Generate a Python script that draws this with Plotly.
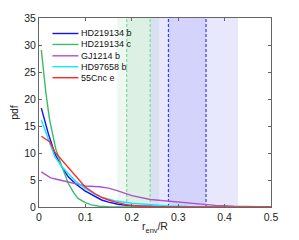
import plotly.graph_objects as go

# ---- data ----
names = ["HD219134 b", "HD219134 c", "GJ1214 b", "HD97658 b", "55Cnc e"]
colors = ["#1010ff", "#3cbb6a", "#b050cc", "#10e8ff", "#ff2a2a"]

x_b = [0.005, 0.012, 0.02, 0.034, 0.05, 0.063, 0.08, 0.099, 0.12, 0.135, 0.15, 0.17, 0.2, 0.25, 0.3, 0.5]
y_b = [18.3, 16.0, 13.6, 9.9, 7.3, 5.6, 4.2, 3.0, 2.0, 1.3, 0.9, 0.5, 0.2, 0.05, 0.0, 0.0]

x_c = [0.005, 0.015, 0.023, 0.03, 0.036, 0.048, 0.063, 0.075, 0.084, 0.1, 0.113, 0.13, 0.15, 0.2, 0.5]
y_c = [29.1, 21.0, 16.1, 13.1, 10.8, 7.8, 4.4, 2.6, 1.6, 0.8, 0.4, 0.15, 0.05, 0.0, 0.0]

x_gj = [0.005, 0.015, 0.025, 0.04, 0.06, 0.08, 0.1, 0.13, 0.15, 0.17, 0.2, 0.24, 0.28, 0.31, 0.35, 0.38, 0.42, 0.45, 0.5]
y_gj = [6.5, 6.0, 5.4, 5.1, 4.7, 4.3, 3.9, 3.75, 3.5, 3.0, 2.1, 1.4, 1.05, 0.8, 0.5, 0.3, 0.15, 0.08, 0.03]

x_hd = [0.005, 0.02, 0.034, 0.05, 0.063, 0.08, 0.099, 0.12, 0.135, 0.15, 0.167, 0.2, 0.24, 0.28, 0.32, 0.4, 0.5]
y_hd = [16.1, 12.5, 9.3, 7.4, 6.2, 4.7, 3.5, 2.4, 1.8, 1.5, 1.1, 0.7, 0.4, 0.2, 0.1, 0.02, 0.0]

x_cnc = [0.005, 0.023, 0.034, 0.05, 0.063, 0.08, 0.099, 0.12, 0.135, 0.15, 0.165, 0.19, 0.22, 0.25, 0.3, 0.5]
y_cnc = [13.1, 12.1, 10.2, 8.6, 7.4, 5.5, 3.75, 2.5, 1.8, 1.3, 0.9, 0.4, 0.15, 0.05, 0.0, 0.0]

green_outer = [0.1686, 0.259]
green_inner = [0.189, 0.2396]
blue_outer = [0.2396, 0.429]
blue_inner = [0.279, 0.360]

x_ticks = [0, 0.1, 0.2, 0.3, 0.4, 0.5]
x_ticklabels = ["0", "0.1", "0.2", "0.3", "0.4", "0.5"]
y_ticks = [0, 5, 10, 15, 20, 25, 30, 35]

series = [(x_b, y_b), (x_c, y_c), (x_gj, y_gj), (x_hd, y_hd), (x_cnc, y_cnc)]

FONT = "Liberation Sans, Arial, sans-serif"

fig = go.Figure()
for (xs, ys), n, c in zip(series, names, colors):
    fig.add_trace(go.Scatter(x=xs, y=ys, mode="lines", name=n,
                             line=dict(color=c, width=1.4), showlegend=False))

shapes = []
GREEN = "rgba(60,180,100,0.09)"
BLUE = "rgba(0,0,235,0.09)"
for band, col in [(green_outer, GREEN), (green_inner, GREEN), (blue_outer, BLUE), (blue_inner, BLUE)]:
    shapes.append(dict(type="rect", xref="x", yref="paper", x0=band[0], x1=band[1], y0=0, y1=1,
                       fillcolor=col, line=dict(width=0), layer="below"))
for xv in green_inner:
    shapes.append(dict(type="line", xref="x", yref="paper", x0=xv, x1=xv, y0=0, y1=1,
                       line=dict(color="#86d69c", width=1.2, dash="3px,2px"), layer="below"))
for xv in blue_inner:
    shapes.append(dict(type="line", xref="x", yref="paper", x0=xv, x1=xv, y0=0, y1=1,
                       line=dict(color="#3a3aff", width=1.2, dash="3px,2px"), layer="below"))

# manual legend
annotations = []
row_y = [0.918, 0.860, 0.800, 0.742, 0.684]
for n, c, yy in zip(names, colors, row_y):
    shapes.append(dict(type="line", xref="paper", yref="paper", x0=0.058, x1=0.170, y0=yy, y1=yy,
                       line=dict(color=c, width=1.4)))
    annotations.append(dict(xref="paper", yref="paper", x=0.172, y=yy, text=n, showarrow=False,
                            xanchor="left", yanchor="middle",
                            font=dict(family=FONT, size=9, color="#111")))

axis_common = dict(showline=True, linecolor="#666", linewidth=1, mirror="allticks",
                   ticks="inside", ticklen=3, tickcolor="#666", showgrid=False, zeroline=False,
                   automargin=False,
                   tickfont=dict(family=FONT, size=10.5, color="#222"))

# page body has an 8px default margin, so the figure is sized/offset to compensate
fig.update_layout(
    width=291, height=232,
    margin=dict(l=31, r=28, t=10, b=33),
    paper_bgcolor="white", plot_bgcolor="white",
    shapes=shapes, annotations=annotations,
    xaxis=dict(range=[0, 0.5], tickvals=x_ticks, ticktext=x_ticklabels,
               title=dict(text="r<sub>env</sub>/R", standoff=1,
                          font=dict(family=FONT, size=10.5, color="#222")),
               **axis_common),
    yaxis=dict(range=[0, 35], tickvals=y_ticks,
               title=dict(text="pdf", standoff=3,
                          font=dict(family=FONT, size=10.5, color="#222")),
               **axis_common),
    showlegend=False,
)
fig.write_html("out.html")
